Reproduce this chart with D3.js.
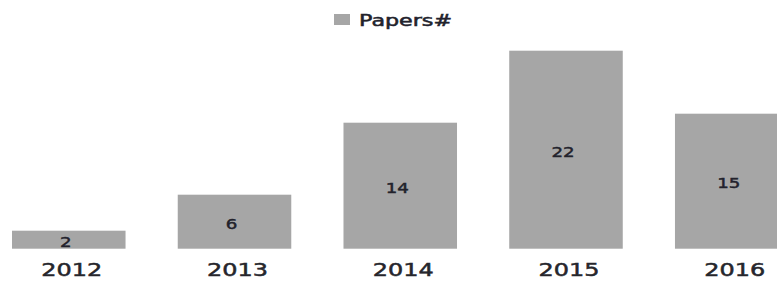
<!DOCTYPE html>
<html>
<head>
<meta charset="utf-8">
<script src="https://cdn.jsdelivr.net/npm/d3@7"></script>
<style>
  body { margin: 0; background: #fff; }
  svg { display: block; font-family: "DejaVu Sans", Verdana, sans-serif; }
</style>
</head>
<body>
<div id="chart"></div>
<script>
// data
const years = ["2012", "2013", "2014", "2015", "2016"];
const papers = [2, 6, 14, 22, 15];
const seriesName = "Papers#";

const width = 777, height = 282;
const barColor = "#a6a6a6", textColor = "#22222c";

const svg = d3.select("#chart").append("svg")
  .attr("width", width)
  .attr("height", height);

const x = d3.scaleBand().domain(years).range([12, 788.5])
  .paddingInner(0.315).paddingOuter(0);
const y = d3.scaleLinear().domain([0, 22]).range([248.7, 50.7]);

// stretch text horizontally like the original rendering
function stretch(sel, factor) {
  sel.each(function () {
    const len = this.getComputedTextLength();
    d3.select(this).attr("textLength", len * factor).attr("lengthAdjust", "spacingAndGlyphs");
  });
}

svg.append("g").selectAll("rect")
  .data(years)
  .enter().append("rect")
  .attr("x", d => x(d))
  .attr("y", (d, i) => y(papers[i]))
  .attr("width", x.bandwidth())
  .attr("height", (d, i) => y(0) - y(papers[i]))
  .attr("fill", barColor);

// value labels in the middle of each bar
svg.append("g").selectAll("text")
  .data(years)
  .enter().append("text")
  .attr("x", d => x(d) + x.bandwidth() / 2 - 3)
  .attr("y", (d, i) => (y(papers[i]) + y(0)) / 2 + 7)
  .attr("text-anchor", "middle")
  .attr("font-size", 14)
  .attr("fill", textColor)
  .attr("stroke", textColor)
  .attr("stroke-width", 0.45)
  .text((d, i) => papers[i])
  .call(stretch, 1.3);

// category axis (labels only)
const axis = svg.append("g")
  .attr("transform", "translate(0," + y(0) + ")")
  .call(d3.axisBottom(x).tickSize(0).tickPadding(0));
axis.select(".domain").remove();
axis.selectAll("text")
  .attr("font-family", "DejaVu Sans, Verdana, sans-serif")
  .attr("font-size", 18)
  .attr("fill", "#26262c")
  .attr("stroke", "#26262c")
  .attr("stroke-width", 0.5)
  .attr("dy", null)
  .attr("y", 27)
  .attr("dx", 3)
  .call(stretch, 1.33);

// legend
const legend = svg.append("g");
legend.append("rect")
  .attr("x", 334).attr("y", 14)
  .attr("width", 16).attr("height", 11)
  .attr("fill", barColor);
legend.append("text")
  .attr("x", 359).attr("y", 25.5)
  .attr("font-size", 15)
  .attr("fill", textColor)
  .attr("stroke", textColor)
  .attr("stroke-width", 0.5)
  .text(seriesName)
  .call(stretch, 1.48);
</script>
</body>
</html>
